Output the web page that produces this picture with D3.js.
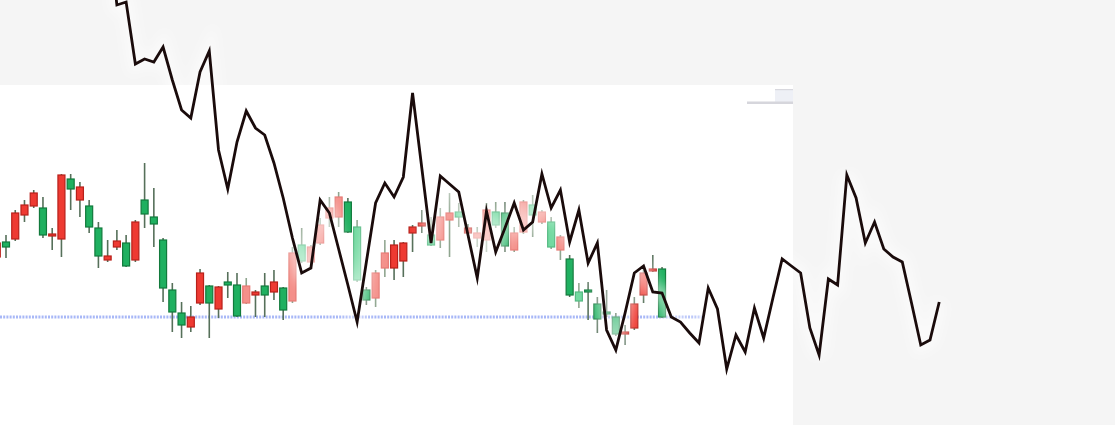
<!DOCTYPE html>
<html>
<head>
<meta charset="utf-8">
<script src="https://cdn.jsdelivr.net/npm/d3@7/dist/d3.min.js"></script>
<style>
  html, body { margin: 0; padding: 0; background: #f5f5f5; }
  svg { display: block; }
</style>
</head>
<body>
<svg id="chart" width="1115" height="425"></svg>
<script>
// ---------- DATA ----------
// candle index (bar number)
const candleIndex = d3.range(1, 74);
const opens  = [86.4,85.6,92.4,94,96.4,88,88.2,100,97.2,97.6,89.6,83.8,83.8,86.8,81.8,90.6,92.2,90.2,77.4,72.6,
                70,71.6,80.4,74.4,77.6,78,71.8,77.8,76.6,76,78.6,73,84.4,82.8,85.6,90,93.4,95.6,88.6,79,
                75,80.4,84.4,86,86.4,89.6,90.4,86,91.6,92.4,91.6,89.4,88.4,93,90,85.8,88.4,94.6,92,92.6,
                85.6,87.6,76,74.8,76.6,71.2,72.2,68.2,68.6,74.2,80.4,81.2,71.6];
const highs  = [87,88,93,95,97,95.6,89.4,100.2,100.2,98.6,95,90.6,87,89,88,91,102.4,97.4,87.4,78.4,
                74.6,73.8,81.2,78,77.8,80.6,80.4,79.4,77,80.4,81,77.6,85.6,89.4,86,91.4,95.6,96.6,95.4,91,
                77.6,81,87,87,86.6,90,93,91.6,93.4,96.4,94.4,90.2,89.6,94.4,94.6,94.6,89.6,95,96,93,
                91.6,88,84,78.4,78.6,75.6,77,72.4,70,75.6,81.4,84,81.6];
const lows   = [83.2,83.4,86.8,90.6,93.4,87.4,85,83.6,93,91.6,88.4,81.4,82.6,85,81.6,82.6,89.4,85.6,74.6,68.6,
                67.4,68.6,74,67.4,71.4,75.4,71.6,74.2,71.6,71.6,75,71,74.4,82.4,82.2,86,89.6,89.6,88.4,78.6,
                74,73.6,79.6,79,79.6,84.6,88.4,85.8,85.4,83.6,89.6,87.4,85.6,84.6,89.4,84.6,84.6,88.2,87.6,90.2,
                85.2,83,75.6,73.4,71,68.4,71.6,67.8,66,69,74.4,80.6,71.4];
const closes = [83.6,86.6,87.2,92,93.8,93.4,87.8,87.2,99.2,95,93.8,89.4,83,85.6,86.4,83,95,91.6,87,77,
                72.4,69.6,74.4,77.8,73.2,78.6,78,74.4,76,77.8,76.6,77.4,74.8,86,82.6,86.4,91.4,91.6,94.6,89.6,
                77,75.4,81.4,81.4,82.8,88.4,89.8,88,87,91,92.6,88.4,87.4,87,92.6,92.4,85,88.6,94,90.6,
                90.6,85,83.2,76.6,77,74.2,72.6,71.6,68.2,69.4,76,80.8,81.2];
// candles shown in the washed-out (highlighted) state
const fadedCandles = [28,33,34,35,36,37,38,40,42,43,48,49,50,51,53,54,55,57,58,59,60,61,62,64];

// overlay line (index 13 .. 103)
const lineIndex = d3.range(13, 104);
const lineValues = [151,134,134.6,122.2,123.2,122.6,125.6,119,113,111.4,120.6,124.8,105,97.2,106.6,112.8,109.4,108,102.4,95.4,
                    87.4,80.4,81.4,95,92.4,85.2,78,70.6,82.6,94.4,98.4,95.6,99.6,116.4,101.4,86.4,99.8,98.2,96.6,88,
                    79.4,92.8,84.6,89.4,94.4,89,90.6,100.2,93.4,97,86.6,93,82.4,86.4,69,65,72.4,80.4,81.8,76.6,
                    76.4,71.6,70.6,68.4,66.4,77.4,73.2,61.2,68,64.6,73.4,67.4,75.4,83.2,81.8,80.4,69.4,64,79.2,78,
                    100,95.4,86.4,90.6,85.2,83.6,82.6,74.4,66,67,74.6];

// horizontal support level (dotted)
const supportPrice = 71.6;
const supportEndIndex = 77.3;

// ---------- CHART ----------
const W = 1115, H = 425;
const svg = d3.select('#chart');

const x = d3.scaleLinear().domain([1, 103]).range([-3.24, 939.24]);
const y = d3.scaleLinear().domain([50, 135]).range([H, 0]);

const defs = svg.append('defs');
defs.append('filter').attr('id', 'glow').attr('x', '-20%').attr('y', '-20%').attr('width', '140%').attr('height', '140%')
  .append('feGaussianBlur').attr('stdDeviation', 6);

// background
svg.append('rect').attr('width', W).attr('height', H).attr('fill', '#f5f5f5');
// white chart panel
svg.append('rect').attr('x', 0).attr('y', 85).attr('width', 793).attr('height', H - 85).attr('fill', '#ffffff');
// small toolbar remnant at panel top-right
svg.append('rect').attr('x', 775).attr('y', 89).attr('width', 18).attr('height', 14).attr('fill', '#eef0f6');
svg.append('rect').attr('x', 775).attr('y', 89).attr('width', 18).attr('height', 1.2).attr('fill', '#d8d8de');
svg.append('rect').attr('x', 747).attr('y', 101.5).attr('width', 46).attr('height', 2.5).attr('fill', '#d6d6dc');

// support level
svg.append('line')
  .attr('x1', 0).attr('x2', x(supportEndIndex))
  .attr('y1', y(supportPrice)).attr('y2', y(supportPrice))
  .attr('stroke', '#9eb0f6').attr('stroke-width', 3).attr('stroke-dasharray', '2,1.2')
  .attr('stroke-opacity', 0.9);

// candles
const candles = candleIndex.map((idx, k) => ({
  idx, o: opens[k], h: highs[k], l: lows[k], c: closes[k],
  up: closes[k] >= opens[k], faded: fadedCandles.includes(idx)
}));

const bodyW = 7;
const g = svg.append('g');
const cg = g.selectAll('g.candle').data(candles).join('g').attr('class', 'candle');
cg.append('line')
  .attr('x1', d => x(d.idx)).attr('x2', d => x(d.idx))
  .attr('y1', d => y(d.h)).attr('y2', d => y(d.l))
  .attr('stroke', d => d.faded ? '#8fa58f' : '#56705a')
  .attr('stroke-width', 1.6);
cg.append('rect')
  .attr('x', d => x(d.idx) - bodyW / 2)
  .attr('width', bodyW)
  .attr('y', d => y(Math.max(d.o, d.c)))
  .attr('height', d => Math.max(2, Math.abs(y(d.o) - y(d.c))))
  .attr('fill', d => d.up ? (d.faded ? '#72d9a0' : '#1fb060') : (d.faded ? '#f4908a' : '#ee3a32'))
  .attr('stroke', d => d.up ? (d.faded ? '#55b982' : '#127a3c') : (d.faded ? '#e67a74' : '#b8201a'))
  .attr('stroke-width', 1.2);

// overlay line
const pts = lineIndex.map((idx, k) => [x(idx), y(lineValues[k])]);
const lineGen = d3.line();
svg.append('path').attr('d', lineGen(pts))
  .attr('fill', 'none').attr('stroke', '#ffffff').attr('stroke-width', 14)
  .attr('stroke-opacity', 0.55).attr('filter', 'url(#glow)');
svg.append('path').attr('d', lineGen(pts))
  .attr('fill', 'none').attr('stroke', '#1a0b0b').attr('stroke-width', 2.8)
  .attr('stroke-linejoin', 'miter').attr('stroke-miterlimit', 6);
</script>
</body>
</html>
